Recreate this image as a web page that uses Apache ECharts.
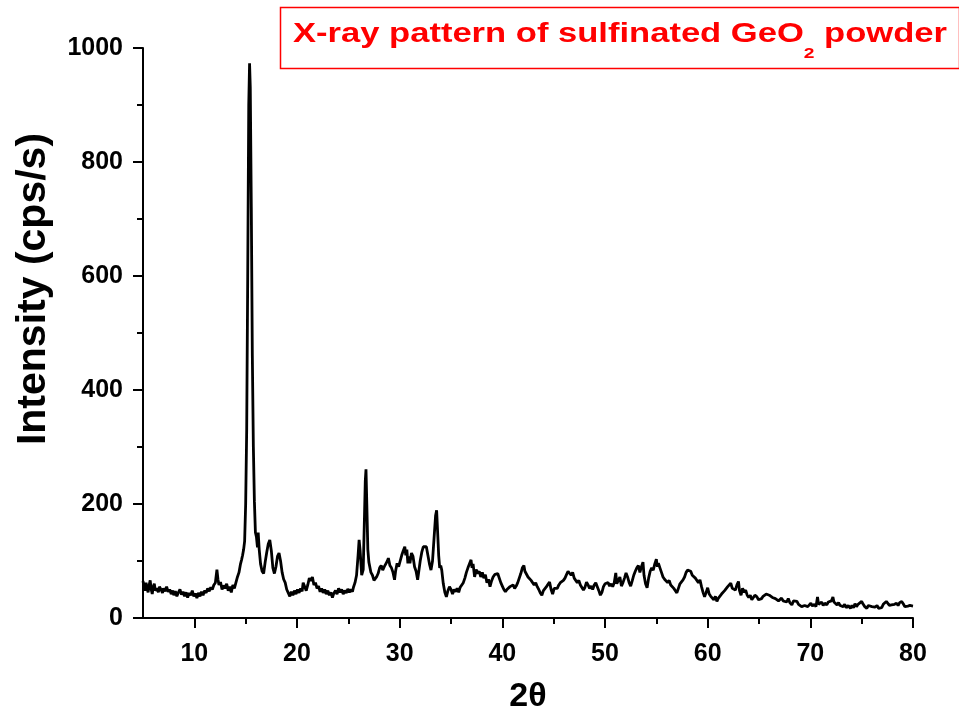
<!DOCTYPE html>
<html>
<head>
<meta charset="utf-8">
<script src="https://cdn.jsdelivr.net/npm/echarts@6/dist/echarts.min.js"></script>
<style>html,body{margin:0;padding:0;background:#fff}#c{width:959px;height:713px}</style>
</head>
<body>
<div id="c"></div>
<script>
// 2θ positions (degrees)
const twoTheta = [
5.0,5.1,5.2,5.3,5.4,5.5,5.6,5.7,5.8,5.9,6.0,6.1,6.2,6.35,6.5,6.6,6.75,6.9,7.0,7.15,7.3,7.45,7.6,7.75,7.9,8.0,8.15,8.3,8.45,8.6,8.75,8.9,9.05,9.2,9.35,9.5,9.65,9.8,9.95,10.1,10.25,10.4,10.55,10.7,10.85,11.0,11.15,11.3,11.45,11.6,11.75,11.9,12.05,12.2,12.3,12.4,12.55,12.7,12.85,13.0,13.15,13.3,13.45,13.6,13.75,13.9,14.05,14.2,14.35,14.5,14.6,14.7,14.8,14.9,15.0,15.1,15.2,15.3,15.38,15.45,15.55,15.65,15.75,15.85,15.95,16.05,16.15,16.22,16.32,16.45,16.6,16.75,16.9,17.05,17.2,17.35,17.5,17.65,17.8,17.95,18.1,18.25,18.4,18.55,18.7,18.85,19.0,19.15,19.3,19.45,19.6,19.75,19.9,20.05,20.2,20.35,20.5,20.6,20.75,20.9,21.05,21.2,21.35,21.5,21.65,21.8,21.95,22.1,22.25,22.4,22.55,22.7,22.85,23.0,23.15,23.3,23.45,23.6,23.75,23.9,24.05,24.2,24.35,24.5,24.65,24.8,24.95,25.1,25.25,25.4,25.5,25.65,25.8,25.95,26.05,26.15,26.3,26.45,26.55,26.65,26.72,26.8,26.9,27.0,27.1,27.2,27.35,27.5,27.6,27.75,27.9,28.05,28.2,28.35,28.5,28.65,28.8,28.9,29.05,29.2,29.35,29.5,29.6,29.75,29.9,30.05,30.2,30.35,30.5,30.6,30.7,30.8,30.9,31.0,31.15,31.3,31.45,31.6,31.75,31.85,32.0,32.15,32.3,32.45,32.6,32.75,32.9,33.05,33.2,33.35,33.5,33.6,33.7,33.8,33.9,34.0,34.1,34.25,34.4,34.55,34.7,34.85,35.0,35.15,35.3,35.45,35.6,35.75,35.9,36.05,36.2,36.35,36.5,36.65,36.8,36.95,37.05,37.15,37.3,37.45,37.6,37.75,37.9,38.05,38.2,38.35,38.5,38.65,38.8,38.95,39.1,39.25,39.4,39.55,39.7,39.85,40.0,40.15,40.3,40.45,40.6,40.75,40.9,41.05,41.2,41.35,41.5,41.65,41.8,41.95,42.1,42.2,42.35,42.5,42.65,42.8,42.95,43.1,43.25,43.4,43.55,43.7,43.85,44.0,44.15,44.3,44.45,44.6,44.75,44.9,45.05,45.2,45.35,45.5,45.65,45.8,45.95,46.1,46.25,46.4,46.55,46.7,46.85,47.0,47.15,47.3,47.45,47.6,47.75,47.9,48.05,48.2,48.35,48.5,48.65,48.8,48.95,49.1,49.25,49.4,49.55,49.7,49.85,50.0,50.15,50.3,50.45,50.6,50.75,50.9,51.05,51.15,51.3,51.45,51.6,51.75,51.9,52.05,52.2,52.35,52.5,52.65,52.8,52.95,53.1,53.25,53.4,53.55,53.7,53.8,53.95,54.1,54.25,54.4,54.55,54.7,54.85,55.0,55.1,55.2,55.35,55.5,55.65,55.8,55.95,56.1,56.25,56.4,56.55,56.7,56.85,57.0,57.15,57.3,57.45,57.6,57.75,57.9,58.05,58.2,58.35,58.5,58.65,58.8,58.95,59.1,59.25,59.4,59.55,59.7,59.85,60.0,60.15,60.3,60.45,60.6,60.75,60.9,61.05,61.2,61.35,61.5,61.65,61.8,61.95,62.1,62.25,62.4,62.55,62.7,62.85,63.0,63.1,63.25,63.4,63.55,63.7,63.85,64.0,64.15,64.3,64.45,64.6,64.8,64.95,65.1,65.25,65.4,65.55,65.7,65.85,66.0,66.15,66.3,66.45,66.6,66.75,66.9,67.05,67.2,67.35,67.5,67.7,67.85,68.0,68.2,68.35,68.5,68.7,68.85,69.0,69.15,69.3,69.45,69.6,69.75,69.9,70.05,70.2,70.4,70.55,70.7,70.8,70.95,71.1,71.25,71.4,71.6,71.75,71.9,72.05,72.2,72.3,72.45,72.6,72.75,72.9,73.05,73.2,73.35,73.5,73.7,73.9,74.05,74.2,74.35,74.5,74.65,74.8,75.0,75.15,75.3,75.5,75.65,75.8,76.0,76.1,76.3,76.5,76.65,76.8,76.95,77.1,77.25,77.4,77.55,77.7,77.9,78.05,78.2,78.4,78.55,78.7,78.9,79.05,79.2,79.35,79.5,79.7,79.85,80.0
];
// Intensity (cps/s)
const intensity = [
65,55,48,62,52,45,58,66,50,42,55,60,48,52,45,55,50,44,52,47,55,46,50,42,48,40,47,38,45,50,41,46,38,45,36,44,40,48,38,43,35,44,38,46,40,48,44,52,47,54,50,58,62,85,68,58,63,50,57,52,60,48,55,45,58,52,62,72,80,95,102,110,120,135,200,330,600,900,973,930,720,460,300,205,150,142,124,150,120,95,82,78,98,115,130,137,118,88,78,90,108,114,100,80,68,62,50,44,38,46,40,48,42,50,44,52,47,62,55,48,58,70,65,72,58,62,52,56,46,52,44,50,42,48,40,45,36,44,48,42,52,45,50,42,48,44,51,45,50,46,54,62,75,110,137,118,75,85,160,240,261,200,120,98,95,80,75,66,64,72,78,88,92,84,90,95,100,105,92,88,80,67,82,96,90,100,110,118,125,110,120,96,108,96,114,108,90,82,67,80,100,115,125,122,125,110,95,84,100,140,180,189,150,110,88,92,84,60,45,37,48,55,50,42,50,46,52,45,54,58,62,70,80,88,85,102,88,95,72,85,78,82,72,80,70,76,62,68,55,65,72,76,74,78,76,62,56,50,46,50,48,55,52,58,52,56,62,65,78,88,92,82,84,72,70,66,64,58,62,55,50,44,40,48,45,55,52,63,50,42,52,55,52,58,62,60,66,70,76,82,84,75,80,70,72,62,66,58,56,49,54,63,58,52,56,50,58,62,55,48,40,45,55,60,58,62,56,60,55,62,79,60,66,72,56,62,70,79,72,62,56,65,75,82,88,92,80,90,98,75,60,53,70,82,88,84,95,103,90,96,88,80,72,68,67,62,66,58,61,52,55,44,52,60,62,67,72,80,84,87,82,75,73,70,68,62,67,55,45,37,45,53,42,38,35,32,38,29,35,38,42,40,48,45,55,58,61,52,55,49,58,64,48,40,52,45,49,40,36,40,32,36,40,37,32,29,34,38,40,42,44,40,42,36,37,34,36,30,32,35,30,32,28,34,27,23,30,28,29,24,22,20,17,22,25,20,23,26,21,24,20,37,24,23,28,22,26,23,28,25,30,37,28,30,23,27,22,25,20,24,18,22,17,22,18,25,20,24,22,29,24,20,17,22,25,20,23,19,22,17,20,18,24,22,29,26,22,23,20,24,26,22,27,29,25,20,23,21,22,20,21
];
const xMajorTicks = [10,20,30,40,50,60,70,80];
const xMinorTicks = [15,25,35,45,55,65,75];
const yRange = [0, 1000];
const yStep = 200;

const FONT = "'Liberation Sans', Arial, sans-serif";
const seriesData = twoTheta.map((x, i) => [x, intensity[i]]);

const chart = echarts.init(document.getElementById('c'), null, {renderer: 'canvas'});
chart.setOption({
  animation: false,
  backgroundColor: '#fff',
  graphic: [{
    type: 'rect', left: 278, top: 5, silent: true,
    shape: {width: 679, height: 61},
    style: {fill: 'none', stroke: '#ff0000', lineWidth: 1.5}
  }, {
    type: 'text', x: 293, y: 21, scaleX: 1.28, silent: true,
    style: {
      text: '{a|X-ray pattern of sulfinated GeO}{s|2}{a| powder}',
      align: 'left', verticalAlign: 'top',
      rich: {
        a: {fontFamily: FONT, fontWeight: 'bold', fontSize: 27, fill: '#ff0000', color: '#ff0000', verticalAlign: 'top'},
        s: {fontFamily: FONT, fontWeight: 'bold', fontSize: 15, fill: '#ff0000', color: '#ff0000', height: 66, verticalAlign: 'top'}
      }
    }
  }, {
    type: 'text', x: 34, y: 289, rotation: Math.PI / 2, silent: true,
    style: {
      text: 'Intensity (cps/s)', align: 'center', verticalAlign: 'middle',
      fontFamily: FONT, fontWeight: 'bold', fontSize: 41, fill: '#000'
    }
  }],
  grid: {left: 143, right: 46, top: 48, bottom: 95, containLabel: false, outerBoundsMode: 'none'},
  xAxis: [{
    type: 'value', min: 5, max: 80,
    name: '2θ', nameLocation: 'middle', nameGap: 62,
    nameTextStyle: {fontFamily: FONT, fontWeight: 'bold', fontSize: 34, color: '#000'},
    axisLine: {show: true, onZero: false, lineStyle: {color: '#000', width: 2}},
    axisTick: {show: true, inside: false, length: 10, customValues: xMajorTicks, lineStyle: {color: '#000', width: 2}},
    axisLabel: {customValues: xMajorTicks, margin: 24, fontFamily: FONT, fontWeight: 'bold', fontSize: 25, color: '#000'},
    splitLine: {show: false}
  }, {
    type: 'value', min: 5, max: 80, position: 'bottom',
    axisLine: {show: false},
    axisTick: {show: true, inside: false, length: 6, customValues: xMinorTicks, lineStyle: {color: '#000', width: 2}},
    axisLabel: {show: false},
    splitLine: {show: false}
  }],
  yAxis: {
    type: 'value', min: yRange[0], max: yRange[1], interval: yStep,
    axisLine: {show: true, lineStyle: {color: '#000', width: 2}},
    axisTick: {show: true, inside: false, length: 10, lineStyle: {color: '#000', width: 2}},
    minorTick: {show: true, splitNumber: 2, length: 6, lineStyle: {color: '#000', width: 2}},
    axisLabel: {margin: 20, fontFamily: FONT, fontWeight: 'bold', fontSize: 25, color: '#000', formatter: v => String(v)},
    splitLine: {show: false}, minorSplitLine: {show: false}
  },
  series: [{
    type: 'line', xAxisIndex: 0, data: seriesData,
    showSymbol: false, symbol: 'none',
    lineStyle: {color: '#000', width: 2.8}, z: 3
  }]
});
</script>
</body>
</html>
